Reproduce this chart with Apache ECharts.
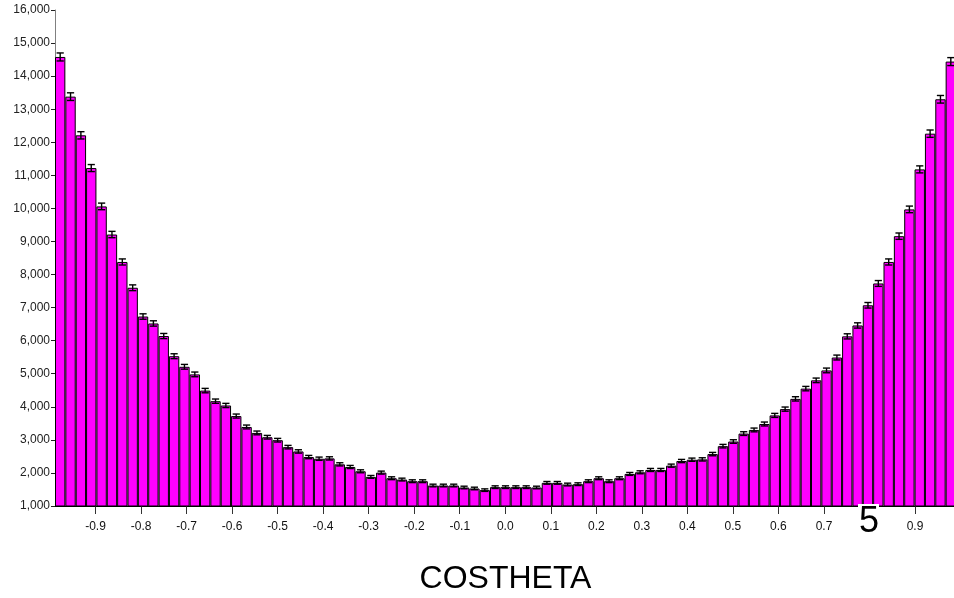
<!DOCTYPE html>
<html><head><meta charset="utf-8">
<script src="https://cdn.jsdelivr.net/npm/echarts@6/dist/echarts.min.js"></script>
<style>html,body{margin:0;padding:0;background:#fff}#c{width:954px;height:598px}</style>
</head><body><div id="c"></div>
<script>
// Histogram of COSTHETA: 87 bins
const counts = [
  14580, 13380, 12210, 11220, 10060, 9210, 8380, 7600, 6730, 6520,
  6140, 5530, 5210, 4980, 4490, 4170, 4040, 3720, 3390, 3210,
  3080, 2990, 2780, 2650, 2480, 2430, 2440, 2260, 2180, 2050,
  1880, 2010, 1840, 1800, 1750, 1750, 1620, 1620, 1620, 1560,
  1530, 1480, 1570, 1570, 1570, 1570, 1560, 1700, 1700, 1650,
  1660, 1750, 1840, 1750, 1840, 1970, 2020, 2090, 2090, 2220,
  2360, 2400, 2410, 2570, 2810, 2950, 3190, 3300, 3480, 3740,
  3930, 4240, 4550, 4800, 5100, 5490, 6130, 6460, 7070, 7730,
  8380, 9160, 9970, 11180, 12260, 13300, 14440
];
const errors = [
  121, 116, 110, 106, 100, 96, 92, 87, 82, 81,
  78, 74, 72, 71, 67, 65, 64, 61, 58, 57,
  55, 55, 53, 51, 50, 49, 49, 48, 47, 45,
  43, 45, 43, 42, 42, 42, 40, 40, 40, 39,
  39, 38, 40, 40, 40, 40, 39, 41, 41, 41,
  41, 42, 43, 42, 43, 44, 45, 46, 46, 47,
  49, 49, 49, 51, 53, 54, 56, 57, 59, 61,
  63, 65, 67, 69, 71, 74, 78, 80, 84, 88,
  92, 96, 100, 106, 111, 115, 120
];
const xMin = -0.989;
const xMax = 0.990;
const xTicks = [-0.9, -0.8, -0.7, -0.6, -0.5, -0.4, -0.3, -0.2, -0.1, 0.0, 0.1, 0.2, 0.3, 0.4, 0.5, 0.6, 0.7, 0.8, 0.9];
const yMin = 1000, yMax = 16000, yStep = 1000;
const xTitle = 'COSTHETA';
const stray = '5';

const FONT = '"Liberation Sans", Arial, sans-serif';
const chart = echarts.init(document.getElementById('c'), null, {renderer: 'canvas'});
const cats = counts.map((_, i) => String(i));
const errData = counts.map((v, i) => [i, v, errors[i]]);

chart.setOption({
  animation: false,
  backgroundColor: '#fff',
  grid: {left: 55, top: 10, width: 901, bottom: 92, containLabel: false, outerBoundsMode: 'none'},
  xAxis: [
    {
      type: 'category', data: cats, position: 'bottom', boundaryGap: true,
      axisLine: {show: true, onZero: false, lineStyle: {color: '#000', width: 1}},
      axisTick: {show: false}, axisLabel: {show: false}, splitLine: {show: false}
    },
    {
      type: 'value', position: 'bottom', min: xMin, max: xMax,
      axisLine: {show: false, onZero: false},
      axisTick: {show: true, customValues: xTicks, length: 8, lineStyle: {color: '#333', width: 1}},
      axisLabel: {show: true, customValues: xTicks, margin: 15, fontSize: 12, fontFamily: FONT, color: '#111',
        formatter: v => Number(v).toFixed(1)},
      splitLine: {show: false},
      name: xTitle, nameLocation: 'middle', nameGap: 57,
      nameTextStyle: {fontSize: 32, fontFamily: FONT, color: '#000'}
    }
  ],
  yAxis: {
    type: 'value', min: yMin, max: yMax, interval: yStep,
    axisLine: {show: true, onZero: false, lineStyle: {color: '#808080', width: 1}},
    axisTick: {show: true, length: 4, lineStyle: {color: '#222'}},
    axisLabel: {margin: 5, fontSize: 12, fontFamily: FONT, color: '#222',
      formatter: v => Number(v).toLocaleString('en-US')},
    splitLine: {show: false}
  },
  series: [
    {
      type: 'bar', xAxisIndex: 0, data: counts, barWidth: '100%', barGap: '0%', barCategoryGap: '0%',
      itemStyle: {color: '#FF00FF', borderColor: '#000', borderWidth: 1}
    },
    {
      type: 'custom', xAxisIndex: 0, data: errData, z: 5,
      renderItem: function (params, api) {
        const i = api.value(0), v = api.value(1), e = api.value(2);
        const t = api.coord([i, v + e]);
        const b = api.coord([i, v - e]);
        const x = t[0], hw = 3.6;
        const st = {stroke: '#000', lineWidth: 1.4};
        return {type: 'group', children: [
          {type: 'line', shape: {x1: x, y1: t[1], x2: x, y2: b[1]}, style: st},
          {type: 'line', shape: {x1: x - hw, y1: t[1], x2: x + hw, y2: t[1]}, style: st},
          {type: 'line', shape: {x1: x - hw, y1: b[1], x2: x + hw, y2: b[1]}, style: st}
        ]};
      }
    }
  ],
  graphic: [
    {type: 'text', left: 858, top: 504, z: 100,
      style: {text: stray, font: '36px ' + FONT, fill: '#000', backgroundColor: '#fff', padding: [0, 0, 0, 1]}}
  ]
});
</script></body></html>
